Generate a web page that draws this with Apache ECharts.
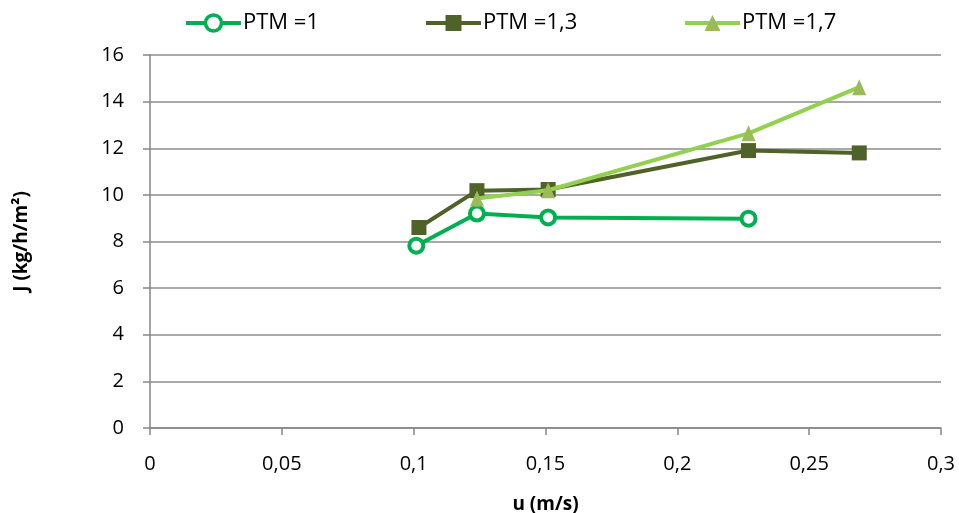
<!DOCTYPE html>
<html><head><meta charset="utf-8">
<script src="https://cdn.jsdelivr.net/npm/echarts@6/dist/echarts.min.js"></script>
<style>html,body{margin:0;padding:0;background:#fff}#c{width:959px;height:513px}</style>
</head><body><div id="c"></div>
<script>
var u1 = [0.101, 0.124, 0.151, 0.227];
var j1 = [7.82, 9.2, 9.03, 8.98];
var u13 = [0.102, 0.124, 0.151, 0.227, 0.269];
var j13 = [8.6, 10.18, 10.23, 11.9, 11.8];
var u17 = [0.124, 0.151, 0.227, 0.269];
var j17 = [9.84, 10.2, 12.64, 14.62];
var names = ['PTM =1', 'PTM =1,3', 'PTM =1,7'];
var xTicks = ['0','0,05','0,1','0,15','0,2','0,25','0,3'];

function pairs(xs, ys){ return xs.map(function(x,i){return [x, ys[i]];}); }
var font = 'Open Sans, Noto Sans, sans-serif';
function leg(name, left){
  return {top: 12, left: left, itemWidth: 55, itemHeight: 20, padding: 0,
    lineStyle: {width: 4},
    itemStyle: {borderWidth: 3.5},
    textStyle: {fontSize: 22, color: '#000', fontFamily: font, padding: [0,0,0,-3]},
    data: [name]};
}
var chart = echarts.init(document.getElementById('c'));
chart.setOption({
  animation: false,
  textStyle: {fontFamily: font},
  grid: {left: 150, right: 18, top: 55, bottom: 85, containLabel: false, outerBoundsMode: 'none'},
  legend: [leg(names[0], 184), leg(names[1], 424), leg(names[2], 683)],
  xAxis: {
    type: 'value', min: 0, max: 0.3, interval: 0.05,
    name: 'u (m/s)', nameLocation: 'middle', nameGap: 67,
    nameTextStyle: {fontSize: 19, fontWeight: 'bold', color: '#000'},
    axisLine: {show: true, lineStyle: {color: '#868686', width: 1.5}},
    axisTick: {show: true, length: 7, lineStyle: {color: '#868686', width: 1.5}},
    splitLine: {show: false},
    axisLabel: {fontSize: 20, color: '#000', margin: 26,
      formatter: function(v){ var i = Math.round(v/0.05); return xTicks[i]; }}
  },
  yAxis: {
    type: 'value', min: 0, max: 16, interval: 2,
    name: 'J (kg/h/m²)', nameLocation: 'middle', nameGap: 119, nameRotate: 90,
    nameTextStyle: {fontSize: 19, fontWeight: 'bold', color: '#000'},
    axisLine: {show: true, lineStyle: {color: '#868686', width: 1.5}},
    axisTick: {show: true, inside: false, length: 7, lineStyle: {color: '#868686', width: 1.5}},
    splitLine: {show: true, lineStyle: {color: '#8c8c8c', width: 1.5}},
    axisLabel: {fontSize: 20, color: '#000', margin: 26}
  },
  series: [
    {name: names[0], type: 'line', data: pairs(u1, j1), symbol: 'circle', symbolSize: 14,
     lineStyle: {color: '#00B050', width: 4},
     itemStyle: {color: '#fff', borderColor: '#00B050', borderWidth: 4}, z: 3},
    {name: names[1], type: 'line', data: pairs(u13, j13), symbol: 'rect', symbolSize: 15,
     lineStyle: {color: '#4F6228', width: 4},
     itemStyle: {color: '#4F6228'}, z: 2},
    {name: names[2], type: 'line', data: pairs(u17, j17), symbol: 'triangle', symbolSize: [14, 16],
     lineStyle: {color: '#92D050', width: 4},
     itemStyle: {color: '#9BBB59'}, z: 4}
  ]
});
</script></body></html>
